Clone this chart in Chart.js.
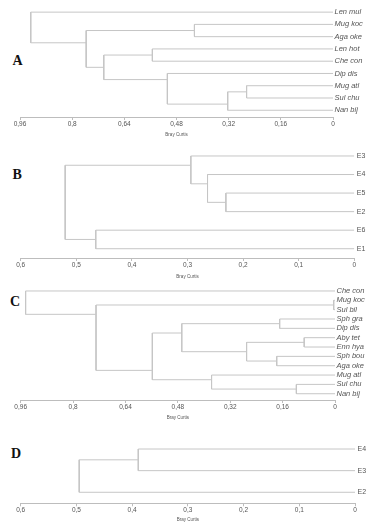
<!DOCTYPE html>
<html>
<head>
<meta charset="utf-8">
<script src="https://cdn.jsdelivr.net/npm/chart.js@4.4.1/dist/chart.umd.min.js"></script>
<style>
  body { margin: 0; background: #fff; width: 373px; height: 532px; position: relative; overflow: hidden; }
  canvas { position: absolute; left: 0; }
  .tag { position: absolute; font: bold 14px "Liberation Serif", "Times New Roman", serif; line-height: 14px; color: #111; }
</style>
</head>
<body>
<div class="tag" style="left:12.5px;top:54px">A</div>
<div class="tag" style="left:12.5px;top:167.5px">B</div>
<div class="tag" style="left:10px;top:294.5px">C</div>
<div class="tag" style="left:11px;top:447px">D</div>
<canvas id="chartA" width="373" height="140" style="top:0px"></canvas>
<canvas id="chartB" width="373" height="140" style="top:140px"></canvas>
<canvas id="chartC" width="373" height="145" style="top:280px"></canvas>
<canvas id="chartD" width="373" height="102" style="top:430px"></canvas>
<script>
// データ: 葉の並び、結合（左の子・右の子・高さ）、目盛り
// 子の番号: 0..n-1 が葉、n 以降が k 番目の結合
const leavesA = ['Len mul', 'Mug koc', 'Aga oke', 'Len hot', 'Che con', 'Dip dis', 'Mug atl', 'Sul chu', 'Nan bij'];
const mergeLeftA = [1, 3, 6, 11, 5, 10, 9, 0];
const mergeRightA = [2, 4, 7, 8, 12, 13, 14, 15];
const heightA = [0.425, 0.554, 0.265, 0.323, 0.508, 0.703, 0.757, 0.927];

const leavesB = ['E3', 'E4', 'E5', 'E2', 'E6', 'E1'];
const mergeLeftB = [2, 1, 0, 4, 8];
const mergeRightB = [3, 6, 7, 5, 9];
const heightB = [0.231, 0.264, 0.294, 0.465, 0.520];

const leavesC = ['Che con', 'Mug koc', 'Sul bil', 'Sph gra', 'Dip dis', 'Aby tet', 'Enn hya', 'Sph bou', 'Aga oke', 'Mug atl', 'Sul chu', 'Nan bij'];
const mergeLeftC = [1, 3, 5, 7, 14, 13, 10, 9, 17, 12, 0];
const mergeRightC = [2, 4, 6, 8, 15, 16, 11, 18, 19, 20, 21];
const heightC = [0.004, 0.169, 0.094, 0.178, 0.270, 0.468, 0.118, 0.377, 0.558, 0.730, 0.945];

const leavesD = ['E4', 'E3', 'E2'];
const mergeLeftD = [0, 3];
const mergeRightD = [1, 2];
const heightD = [0.389, 0.495];

const ticks96 = [0.96, 0.8, 0.64, 0.48, 0.32, 0.16, 0];
const tickLabels96 = ['0,96', '0,8', '0,64', '0,48', '0,32', '0,16', '0'];
const ticks6 = [0.6, 0.5, 0.4, 0.3, 0.2, 0.1, 0];
const tickLabels6 = ['0,6', '0,5', '0,4', '0,3', '0,2', '0,1', '0'];

const FONT = '"Liberation Sans", Arial, sans-serif';
const LINE = '#c6c6c6';
const AXIS = '#bdbdbd';
const TEXT = '#555';

// 結合ごとにコの字の折れ線を作る（ノードの縦位置は上下の子の境目）
function buildSegments(leaves, left, right, heights) {
    const info = leaves.map((_, i) => ({ x: 0, y: i, lo: i, hi: i }));
    const segs = [];
    left.forEach((a, k) => {
        const A = info[a], B = info[right[k]];
        const h = heights[k];
        const top = A.lo < B.lo ? A : B;
        const bot = top === A ? B : A;
        info.push({ x: h, y: (top.hi + bot.lo) / 2, lo: top.lo, hi: bot.hi });
        segs.push([{ x: A.x, y: A.y }, { x: h, y: A.y }, { x: h, y: B.y }, { x: B.x, y: B.y }]);
    });
    return segs;
}

function makeDendrogram(id, leaves, left, right, heights, tickValues, tickLabels, o) {
    const segs = buildSegments(leaves, left, right, heights);
    new Chart(document.getElementById(id).getContext('2d'), {
        type: 'scatter',
        data: {
            datasets: segs.map(d => ({
                data: d,
                showLine: true,
                borderColor: LINE,
                borderWidth: 1,
                pointRadius: 0,
                tension: 0,
                fill: false
            }))
        },
        options: {
            responsive: false,
            animation: false,
            events: [],
            layout: { padding: { left: o.left, top: o.top, right: 0, bottom: 0 } },
            plugins: { legend: { display: false }, tooltip: { enabled: false } },
            scales: {
                x: {
                    type: 'linear',
                    reverse: true,
                    min: 0,
                    max: tickValues[0],
                    afterBuildTicks: s => { s.ticks = tickValues.map(v => ({ value: v })); },
                    afterFit: s => { s.height = o.axisH; },
                    grid: { drawOnChartArea: false, drawTicks: true, tickLength: 3, color: AXIS },
                    border: { display: true, color: AXIS, width: 1 },
                    ticks: {
                        font: { family: FONT, size: 6.5 },
                        color: TEXT,
                        padding: 0,
                        maxRotation: 0,
                        autoSkip: false,
                        callback: (v, i) => tickLabels[i]
                    },
                    title: {
                        display: true,
                        text: 'Bray Curtis',
                        font: { family: FONT, size: 4.5 },
                        color: TEXT,
                        padding: { top: 0, bottom: o.titleBottom }
                    }
                },
                y: {
                    type: 'linear',
                    position: 'right',
                    reverse: true,
                    min: -0.5,
                    max: o.yMax,
                    afterBuildTicks: s => { s.ticks = leaves.map((_, i) => ({ value: i })); },
                    afterFit: s => { s.width = o.yW; },
                    grid: { display: false, drawTicks: false },
                    border: { display: false },
                    ticks: {
                        font: { family: FONT, size: o.labelSize, style: o.italic ? 'italic' : 'normal' },
                        color: TEXT,
                        padding: o.labelPad,
                        autoSkip: false,
                        callback: (v, i) => leaves[i]
                    }
                }
            }
        }
    });
}

makeDendrogram('chartA', leavesA, mergeLeftA, mergeRightA, heightA, ticks96, tickLabels96,
    { left: 20, top: 2.7, yMax: 8.55, axisH: 23, titleBottom: 2.3, yW: 40, labelPad: 1.5, labelSize: 7.5, italic: true });
makeDendrogram('chartB', leavesB, mergeLeftB, mergeRightB, heightB, ticks6, tickLabels6,
    { left: 20.7, top: 0.9, yMax: 5.5, axisH: 22, titleBottom: 0.6, yW: 18.7, labelPad: 2.5, labelSize: 7, italic: false });
makeDendrogram('chartC', leavesC, mergeLeftC, mergeRightC, heightC, ticks96, tickLabels96,
    { left: 20.7, top: 6.3, yMax: 11.67, axisH: 25, titleBottom: 5, yW: 38, labelPad: 1.5, labelSize: 7.5, italic: true });
makeDendrogram('chartD', leavesD, mergeLeftD, mergeRightD, heightD, ticks6, tickLabels6,
    { left: 20.7, top: 8.2, yMax: 2.51, axisH: 28.7, titleBottom: 10, yW: 18, labelPad: 2.5, labelSize: 7, italic: false });
</script>
</body>
</html>
